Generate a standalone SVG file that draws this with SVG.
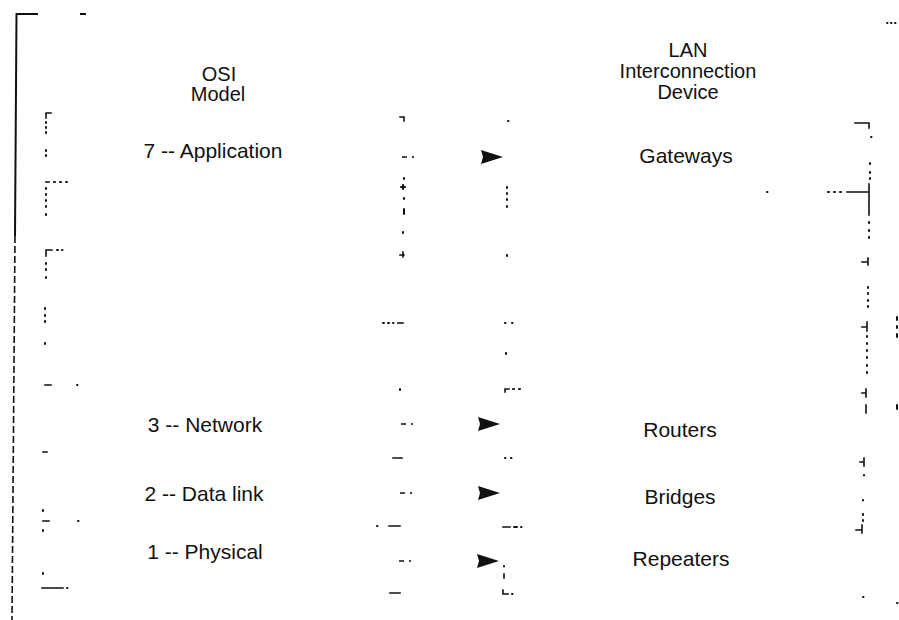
<svg xmlns="http://www.w3.org/2000/svg" width="899" height="620" viewBox="0 0 899 620">
  <style>
    .bg { fill: #ffffff; }
    .edge { fill: none; stroke: #111; stroke-width: 1.6; stroke-linecap: square; }
    .frame { fill: none; stroke: #111; stroke-width: 2; }
    .frame-broken { fill: none; stroke: #111; stroke-width: 1.6; stroke-dasharray: 7 3; }
    .dot { fill: none; stroke: #111; stroke-width: 2; stroke-linecap: round; }
    .lbl { font-family: "Liberation Sans", Arial, Helvetica, sans-serif; font-size: 21px; fill: #111; text-anchor: middle; }
    .title { font-size: 20px; }
    .link { fill: none; stroke: #111; stroke-width: 1.6; stroke-dasharray: 5 5 2 400; }
  </style>
  <defs>
    <marker id="head" viewBox="0 0 22 14" refX="22" refY="7" markerWidth="22" markerHeight="14" markerUnits="userSpaceOnUse" orient="auto">
      <path d="M0,0 L22,7 L0,14 L2,7 Z" fill="#111"/>
    </marker>
  </defs>

  <rect class="bg" x="0" y="0" width="899" height="620"/>

  <!-- outer frame of the figure -->
  <g id="frame">
    <path class="frame" d="M38,14 H16.5 L15,236"/>
    <path class="frame-broken" d="M15,236 L12,620"/>
    <path class="frame" d="M80,14 H86"/>
    <path class="dot" d="M887,23 h0.5 M891,23 h0.5 M895,23 h0.5"/>
    <path class="dot" d="M897,317 v3 M897,326 v2 M897,334 v3 M897,405 v4 M897,603 h0.5"/>
  </g>

  <!-- OSI model column -->
  <g id="osi-column">
    <g id="osi-title">
      <text class="lbl title" x="219" y="81">OSI</text>
      <text class="lbl title" x="218" y="101">Model</text>
    </g>
    <g id="layer-7">
      <path class="edge" d="M46,118 V113 H51 M400,117 H404 V121"/>
      <path class="dot" d="M46,122 v1 M46,127 v1 M46,132 v1 M46,150 v1 M46,155 v1"/>
      <text class="lbl" x="213" y="158">7 -- Application</text>
    </g>
    <g id="layer-6">
      <path class="edge" d="M46,182 H49"/>
      <path class="dot" d="M54,182 h1 M60,182 h1 M66,182 h1 M46,188 v1 M46,194 v1 M46,200 v1 M46,206 v1 M46,214 v1"/>
      <path class="dot" d="M404,178 v1 M401,187 h4 M403,185 v4 M404,198 v1 M404,209 v5 M403,232 v1"/>
    </g>
    <g id="layer-5">
      <path class="edge" d="M46,256 V250 H52 M400,255 H404 M403,252 V257"/>
      <path class="dot" d="M57,250 h1 M62,250 h0.5 M46,263 v1 M46,269 v1 M46,277 v1 M45,308 v1"/>
    </g>
    <g id="layer-4">
      <path class="dot" d="M45,315 v1 M45,321 v1 M45,343 v1 M383,323 h1 M388,323 h1 M393,323 h0.5"/>
      <path class="edge" d="M398,323 H403"/>
    </g>
    <g id="layer-3">
      <path class="edge" d="M45,385 H51 M43,452 H47 M393,458 H402"/>
      <path class="dot" d="M77,385 h0.5 M400,389 v1"/>
      <text class="lbl" x="205" y="432">3 -- Network</text>
    </g>
    <g id="layer-2">
      <path class="edge" d="M43,521 H49 M389,526 H400"/>
      <path class="dot" d="M43,510 v1 M78,521 h0.5 M43,530 v1 M377,526 h0.5"/>
      <text class="lbl" x="204" y="501">2 -- Data link</text>
    </g>
    <g id="layer-1">
      <path class="edge" d="M42,588 H63 M390,593 H400"/>
      <path class="dot" d="M43,573 v1 M67,588 h0.5"/>
      <text class="lbl" x="205" y="559">1 -- Physical</text>
    </g>
  </g>

  <!-- LAN interconnection device column -->
  <g id="device-column">
    <g id="device-title">
      <text class="lbl title" x="688" y="57">LAN</text>
      <text class="lbl title" x="688" y="78">Interconnection</text>
      <text class="lbl title" x="688" y="99">Device</text>
    </g>
    <g id="gateways">
      <path class="edge" d="M855,123 H869 V128 M847,192 H869 M869,184 V215"/>
      <path class="dot" d="M508,121 h0.5 M871,137 h0.5 M870,163 v1 M870,172 v1 M870,178 v1 M828,192 h1 M834,192 h1 M840,192 h1 M767,192 h0.5 M869,222 v1 M869,230 v1 M869,237 v1"/>
      <path class="dot" d="M507,187 v1 M507,193 v1 M507,199 v1 M507,206 v1 M507,255 v1"/>
      <text class="lbl" x="686" y="163">Gateways</text>
    </g>
    <g id="device-blank">
      <path class="edge" d="M862,262 H868 M868,258 V265 M862,327 H867 M867,322 V331 M862,393 H866 M866,389 V397 M866,405 V413"/>
      <path class="dot" d="M868,287 v1 M868,293 v1 M868,300 v1 M868,306 v1 M867,336 v1 M867,343 v1 M867,350 v1 M867,357 v1 M867,365 v1 M867,372 v1"/>
      <path class="dot" d="M505,323 h0.5 M512,323 h0.5 M506,353 v1"/>
      <path class="edge" d="M505,392 V389 H509"/>
      <path class="dot" d="M513,389 h1 M519,389 h1"/>
    </g>
    <g id="routers">
      <path class="edge" d="M860,462 H864 M864,458 V466"/>
      <path class="dot" d="M864,475 v0.5 M505,458 h0.5 M511,458 h0.5"/>
      <text class="lbl" x="680" y="437">Routers</text>
    </g>
    <g id="bridges">
      <path class="edge" d="M856,530 H862 M862,525 V533 M503,527 H510"/>
      <path class="dot" d="M863,500 v0.5 M863,514 v1 M863,520 v1 M514,527 h3 M521,527 h0.5"/>
      <text class="lbl" x="680" y="504">Bridges</text>
    </g>
    <g id="repeaters">
      <path class="edge" d="M503,590 V594 H508 M504,574 V578"/>
      <path class="dot" d="M504,566 v0.5 M512,594 h0.5 M863,597 h0.5"/>
      <text class="lbl" x="681" y="566">Repeaters</text>
    </g>
  </g>

  <!-- layer-to-device arrows -->
  <g id="connectors">
    <path class="link" d="M402,157 H503" marker-end="url(#head)"/>
    <path class="link" d="M401,424 H500" marker-end="url(#head)"/>
    <path class="link" d="M400,493 H500" marker-end="url(#head)"/>
    <path class="link" d="M399,561 H499" marker-end="url(#head)"/>
  </g>
</svg>
